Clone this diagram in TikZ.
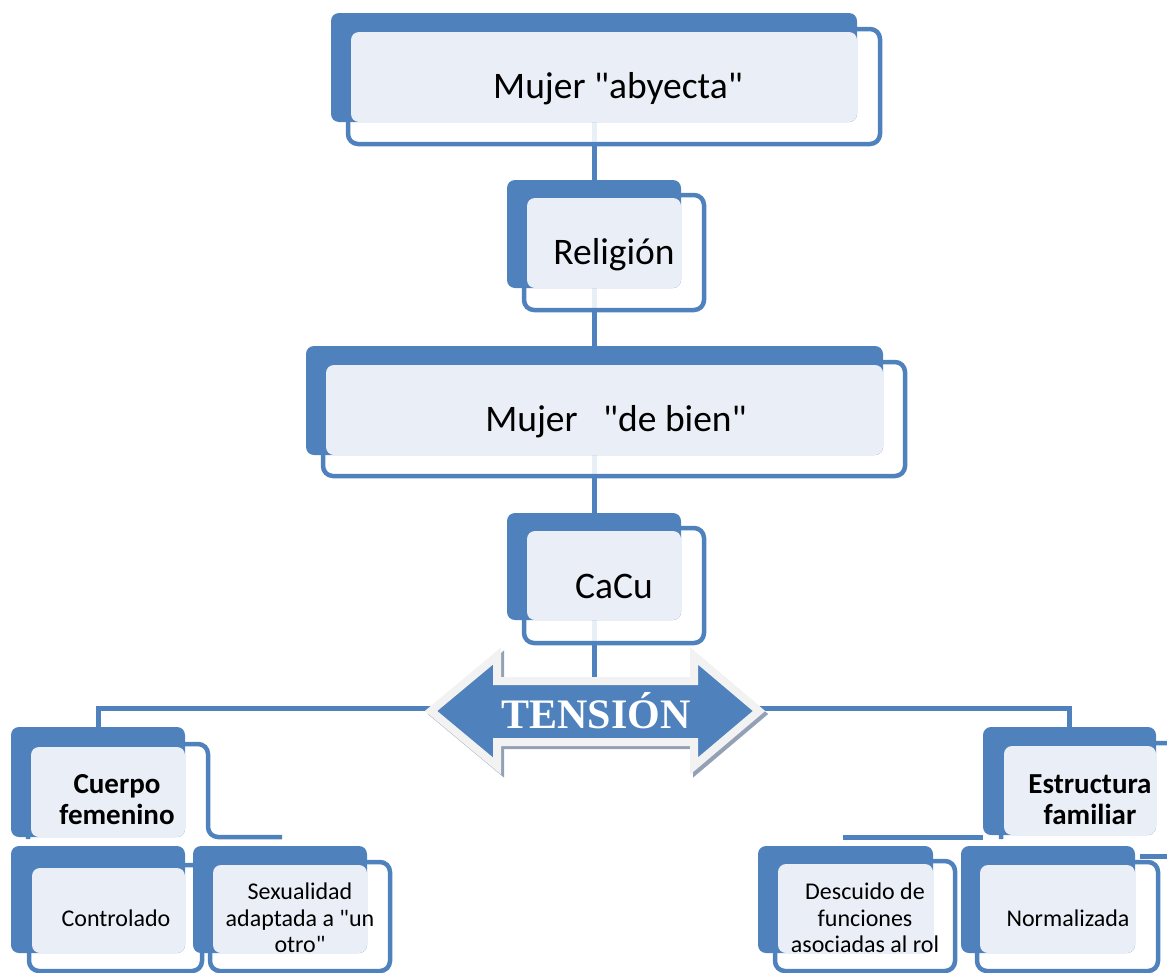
\documentclass[tikz,border=0pt]{standalone}
\usepackage{fontspec}
\setmainfont{Carlito}
\newfontfamily\tensfont{Liberation Serif}
\definecolor{sablue}{RGB}{79,129,189}
\definecolor{salight}{RGB}{234,239,247}
\definecolor{saglow}{RGB}{242,242,242}
\definecolor{sashadow}{RGB}{148,160,182}
\pgfdeclarelayer{bg}
\pgfsetlayers{bg,main}
\newcommand{\qq}{\textquotedbl}
\tikzset{
  frontbox/.style={draw=sablue, line width=4.5pt, fill=white, fill opacity=0.88, rounded corners=10pt},
  frontline/.style={draw=sablue, line width=4.5pt, fill=white, rounded corners=10pt},
  backbox/.style={fill=sablue, draw=none, rounded corners=8pt, inner sep=0pt, outer sep=0pt},
  lightbox/.style={fill=salight, rounded corners=8pt},
  conn/.style={draw=sablue, line width=5pt},
  bigtext/.style={font=\fontsize{37.5}{40}\selectfont, anchor=base, inner sep=0pt},
  smalltext/.style={font=\fontsize{24}{26.5}\selectfont, align=center, inner sep=0pt},
  boldtext/.style={font=\bfseries\fontsize{29}{31}\selectfont, align=center, inner sep=0pt},
}
% name, back x1,y1,x2,y2, front x1,y1,x2,y2
\newcommand{\saboxdraw}[9]{%
  \draw[frontbox] (#6,#7) rectangle (#8,#9);
  \node[backbox, minimum width={(#4-#2)*1pt}, minimum height={(#5-#3)*1pt}] (#1) at ({(#2+#4)/2},{(#3+#5)/2}) {};
  \fill[lightbox] ({#6+3},{#7+3}) rectangle (#4,#5);
}
\begin{document}
\begin{tikzpicture}[x=1pt, y=-1pt]
\useasboundingbox (0,0) rectangle (1167,972);
\clip (0,0) rectangle (1167,972);

% ---- central column ----
\saboxdraw{b1}{331}{13}{857}{122}{348}{29}{880}{144}
\node[bigtext] (t1) at (618,98) {Mujer \qq abyecta\qq};
\saboxdraw{b2}{507}{180}{681}{288}{524}{195}{704}{310}
\node[bigtext] (t2) at (614,264) {Religión};
\saboxdraw{b3}{306}{346}{883}{455}{323}{362}{905}{476}
\node[bigtext] (t3) at (616,431) {Mujer \ \ \qq de bien\qq};
\saboxdraw{b4}{507}{513}{681}{620}{524}{528}{704}{643}
\node[bigtext] (t4) at (614,598) {CaCu};

% ---- arrow ----
\coordinate (arrL) at (431,708);
\coordinate (arrR) at (759,708);
\coordinate (arrT) at (594,681);
\path[fill=sashadow, draw=sashadow, line width=8pt, line join=miter, shift={(3,3)}]
  (431,711) -- (497,656) -- (497,681) -- (694,681) -- (694,656) -- (759,711)
  -- (694,766) -- (694,742) -- (497,742) -- (497,766) -- cycle;
\path[fill=sablue, draw=saglow, line width=8pt, line join=miter]
  (431,711) -- (497,656) -- (497,681) -- (694,681) -- (694,656) -- (759,711)
  -- (694,766) -- (694,742) -- (497,742) -- (497,766) -- cycle;
\node[text=white, font=\tensfont\bfseries\fontsize{42}{42}\selectfont, anchor=base, inner sep=0pt] (tens) at (596,728) {TENSIÓN};

% ---- left branch ----
\draw[frontline] (28,839) -- (28,744) -- (208,744) -- (208,837) -- (282,837);
\node[backbox, minimum width=174pt, minimum height=110pt] (cf) at (98,782) {};
\fill[lightbox] (31,747) rectangle (185,837);
\node[boldtext] (tcf) at (117,800) {Cuerpo\\femenino};

\saboxdraw{ctl}{11}{846}{185}{953}{29}{865}{202}{971}
\node[smalltext] (tctl) at (116,918) {Controlado};
\saboxdraw{sex}{193}{846}{367}{953}{210}{862}{390}{971}
\node[smalltext] (tsex) at (300,918) {Sexualidad\\adaptada a \qq un\\otro\qq};

% ---- right branch ----
\coordinate (dl) at (843,837);
\draw[frontline] (1001,839) -- (1001,743) -- (1195,743);
\node[backbox, minimum width=173pt, minimum height=108pt] (ef) at (1069.5,781) {};
\fill[lightbox] (1004,746) rectangle (1156,835);
\node[boldtext] (tef) at (1090,800) {Estructura\\familiar};

\coordinate (nr) at (1140,856);
\draw[conn] (nr) -- (1170,856);
\saboxdraw{des}{758}{846}{933}{953}{775}{861}{955}{971}
\node[smalltext] (tdes) at (865,918) {Descuido de\\funciones\\asociadas al rol};
\saboxdraw{nor}{961}{846}{1135}{953}{977}{862}{1158}{971}
\node[smalltext] (tnor) at (1068,918) {Normalizada};

% ---- connectors (behind) ----
\begin{pgfonlayer}{bg}
  \draw[conn] (b1.south) -- (b1.south |- b2.north);
  \draw[conn] (b2.south) -- (b2.south |- b3.north);
  \draw[conn] (b3.south) -- (b3.south |- b4.north);
  \draw[conn] (b4.south) -- (b4.south |- arrT);
  \draw[conn] (arrL) -| (cf.north);
  \draw[conn] (arrR) -| (ef.north);
  \draw[conn] (dl) -- (dl -| ef.west);
\end{pgfonlayer}
\end{tikzpicture}
\end{document}
